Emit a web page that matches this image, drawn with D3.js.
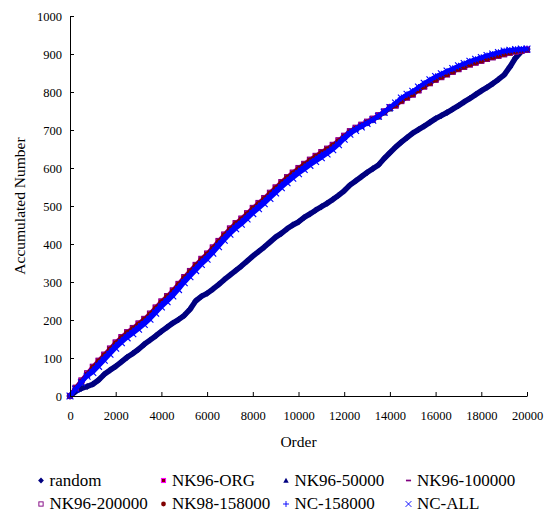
<!DOCTYPE html>
<html>
<head>
<meta charset="utf-8">
<script src="https://cdn.jsdelivr.net/npm/d3@7"></script>
<style>
  body { margin: 0; background: #fff; }
</style>
</head>
<body>
<div id="chart"></div>
<script>
// x positions of the read points (every 250 orders)
const orders = d3.range(0, 20001, 250);
const xTicks = [0, 2000, 4000, 6000, 8000, 10000, 12000, 14000, 16000, 18000, 20000];
const yTicks = [0, 100, 200, 300, 400, 500, 600, 700, 800, 900, 1000];

const seriesNames = ["random", "NK96-ORG", "NK96-50000", "NK96-100000",
  "NK96-200000", "NK98-158000", "NC-158000", "NC-ALL"];

// values
const random = [0,12,20,25,31,42,57,68,78,90,102,112,123,136,147,158,170,181,192,201,
  212,228,250,262,270,281,293,306,318,330,342,355,368,380,392,405,418,428,440,450,
  458,470,479,489,498,507,517,528,540,555,566,577,588,598,608,625,640,655,668,680,
  692,701,710,720,730,738,746,755,764,774,783,793,803,812,822,833,845,866,890,906,912];

const nk96Org = [0,21,40,58,76,92,108,124,140,154,167,178,190,202,216,232,248,262,277,294,
  312,328,344,360,374,390,407,424,440,454,466,480,494,507,520,534,548,562,575,587,
  599,610,621,631,641,650,660,672,684,696,705,713,721,729,738,748,759,765,777,786,
  794,805,815,824,833,840,847,854,861,867,873,878,883,888,892,896,900,904,907,909,912];

const nk96_50000 = [0,19,37,55,73,87,105,119,137,149,164,173,187,197,213,227,245,257,274,289,
  309,323,341,355,371,385,404,419,437,449,463,475,491,502,517,529,545,557,572,582,
  596,605,618,626,638,645,657,667,681,693,702,710,718,726,735,745,756,766,778,787,
  795,806,816,825,834,841,848,855,862,868,874,879,884,889,893,897,901,905,907,909,911];

const nk96_100000 = [0,20,39,57,74,90,106,122,138,152,165,176,188,200,214,230,246,260,275,292,
  310,326,342,358,372,388,405,422,438,452,464,478,492,505,518,532,546,560,573,585,
  597,608,619,629,639,648,658,670,683,695,704,712,720,728,737,747,758,766,778,787,
  795,806,816,825,834,841,848,855,862,868,874,879,884,889,893,897,901,904,906,908,911];

const nk96_200000 = [0,22,41,60,77,93,109,125,141,155,168,179,191,203,217,233,249,263,278,295,
  313,329,345,361,375,391,408,425,441,455,467,481,495,508,521,535,549,563,576,588,
  600,611,622,632,642,651,661,673,685,697,706,714,722,730,739,749,760,764,776,785,
  793,804,814,823,832,839,846,853,860,866,872,877,882,887,891,895,899,903,906,908,911];

const nk98_158000 = [0,21,39,57,75,91,107,123,139,153,166,177,189,201,215,231,247,261,276,293,
  311,327,343,359,373,389,406,423,439,453,465,479,493,506,519,533,547,561,574,586,
  598,609,620,630,640,649,659,671,683,695,704,712,720,728,737,747,758,765,777,786,
  794,805,815,824,833,840,847,854,861,867,873,878,883,888,892,896,900,904,907,909,912];

const nc158000 = [0,19,37,55,69,85,101,117,133,147,160,171,183,195,209,225,241,255,270,287,
  305,321,337,353,367,383,400,417,433,447,459,473,487,500,513,527,541,555,568,580,
  592,603,614,624,634,643,653,666,681,694,703,711,719,727,737,748,760,771,784,793,
  801,812,822,831,840,847,854,861,868,874,880,885,890,895,899,903,907,909,911,912,913];

const ncAll = [0,18,35,52,62,78,94,110,126,140,153,164,176,188,202,218,234,248,263,280,
  298,314,330,346,360,376,393,410,426,440,452,466,480,493,506,520,534,548,561,573,
  585,596,607,617,627,637,648,661,676,689,699,708,717,726,736,747,759,771,784,794,
  802,813,823,832,841,848,855,862,869,875,881,886,891,896,900,904,908,910,912,913,913];

const seriesValues = [random, nk96Org, nk96_50000, nk96_100000,
  nk96_200000, nk98_158000, nc158000, ncAll];

// marker look for each series (Excel style)
const markerTypes = ["diamond", "squareFill", "triangle", "dash",
  "squareOpen", "circle", "plus", "cross"];
const trailColors = ["#000080", "#FF00FF", "#000080", "#800080",
  "#B000B0", "#800000", "#0000FF", "#0000FF"];

const FONT = "'Liberation Serif', 'Times New Roman', serif";
const width = 545, height = 512;
const margin = { left: 70, right: 18, top: 16, bottom: 116 };

const svg = d3.select("#chart").append("svg")
  .attr("width", width)
  .attr("height", height)
  .style("display", "block");

const x = d3.scaleLinear().domain([0, 20000]).range([margin.left, width - margin.right]);
const y = d3.scaleLinear().domain([0, 1000]).range([height - margin.bottom, margin.top]);

function drawMarker(g, type) {
  switch (type) {
    case "diamond":
      g.append("path").attr("d", "M0,-3.4L3.4,0L0,3.4L-3.4,0Z").attr("fill", "#000080");
      break;
    case "squareFill":
      g.append("rect").attr("x", -2.4).attr("y", -2.4).attr("width", 4.8).attr("height", 4.8)
        .attr("fill", "#800000").attr("stroke", "#FF00FF").attr("stroke-width", 1.2);
      break;
    case "triangle":
      g.append("path").attr("d", "M0,-3.3L3.2,2.7L-3.2,2.7Z").attr("fill", "#000080");
      break;
    case "dash":
      g.append("path").attr("d", "M-3,0H3").attr("stroke", "#800080").attr("stroke-width", 2);
      break;
    case "squareOpen":
      g.append("rect").attr("x", -2.5).attr("y", -2.5).attr("width", 5).attr("height", 5)
        .attr("fill", "none").attr("stroke", "#800080").attr("stroke-width", 1.1);
      break;
    case "circle":
      g.append("circle").attr("r", 2.8).attr("fill", "#800000");
      break;
    case "plus":
      g.append("path").attr("d", "M-3.5,0H3.5M0,-3.5V3.5").attr("stroke", "#0000FF").attr("stroke-width", 1.1);
      break;
    case "cross":
      g.append("path").attr("d", "M-3.4,-3.4L3.4,3.4M-3.4,3.4L3.4,-3.4").attr("stroke", "#0000FF").attr("stroke-width", 1.1);
      break;
  }
}

// the markers sit so close in the original that they read as a thick trail
const trail = d3.line().x((d, j) => x(orders[j])).y(d => y(d));

seriesValues.forEach((vals, i) => {
  const g = svg.append("g").attr("class", "series");
  g.append("path")
    .attr("d", trail(vals))
    .attr("fill", "none")
    .attr("stroke", trailColors[i])
    .attr("stroke-width", i === 0 ? 5.5 : 4)
    .attr("stroke-linejoin", "round");
  vals.forEach((v, j) => {
    const m = g.append("g").attr("transform", `translate(${x(orders[j])},${y(v)})`);
    drawMarker(m, markerTypes[i]);
  });
});

// axes
const xAxis = svg.append("g")
  .attr("transform", `translate(0,${y(0)})`)
  .call(d3.axisBottom(x).tickValues(xTicks).tickFormat(d3.format("d"))
    .tickSizeInner(-4).tickSizeOuter(0).tickPadding(15));

const yAxis = svg.append("g")
  .attr("transform", `translate(${x(0)},0)`)
  .call(d3.axisLeft(y).tickValues(yTicks).tickFormat(d3.format("d"))
    .tickSizeInner(-4).tickSizeOuter(0).tickPadding(8));

[xAxis, yAxis].forEach(a => {
  a.attr("font-family", FONT).attr("font-size", null);
  a.selectAll("text").attr("font-family", FONT).attr("font-size", "12.5px").attr("fill", "#000");
  a.selectAll("line, path").attr("stroke", "#000");
});

// axis titles
svg.append("text")
  .attr("x", (x(0) + x(20000)) / 2)
  .attr("y", 446.5)
  .attr("text-anchor", "middle")
  .attr("font-family", FONT)
  .attr("font-size", "15.5px")
  .text("Order");

svg.append("text")
  .attr("transform", `translate(25,${(y(0) + y(1000)) / 2}) rotate(-90)`)
  .attr("text-anchor", "middle")
  .attr("font-family", FONT)
  .attr("font-size", "15.5px")
  .text("Accumulated Number");

// legend, two rows of four
const legendCols = [41, 163.5, 286, 408.5];
const legendRows = [480.5, 504];
seriesNames.forEach((name, i) => {
  const cx = legendCols[i % 4], cy = legendRows[Math.floor(i / 4)];
  const m = svg.append("g").attr("transform", `translate(${cx},${cy}) scale(0.85)`);
  drawMarker(m, markerTypes[i]);
  svg.append("text")
    .attr("x", cx + 8.5)
    .attr("y", cy + 5)
    .attr("font-family", FONT)
    .attr("font-size", "17px")
    .text(name);
});
</script>
</body>
</html>
